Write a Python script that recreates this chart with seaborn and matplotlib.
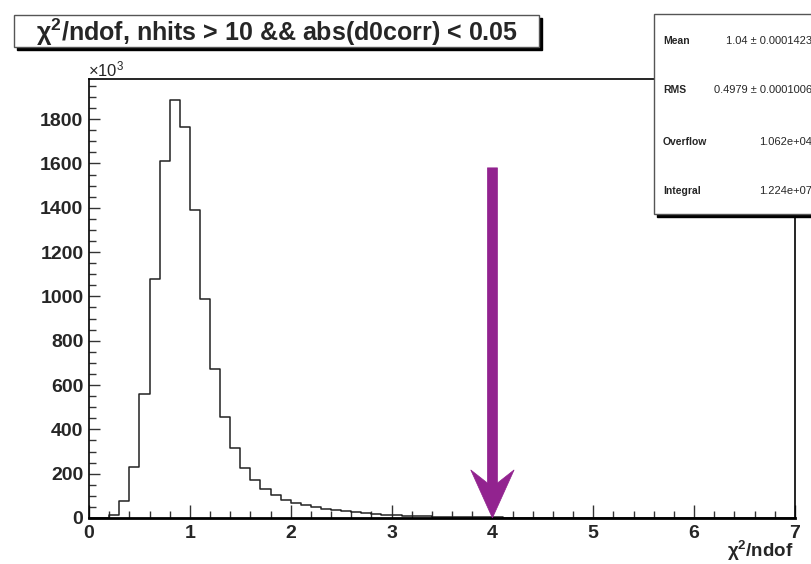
import numpy as np
import pandas as pd
import matplotlib
matplotlib.use("Agg")
import matplotlib.pyplot as plt
from matplotlib.patches import Rectangle, Polygon
import seaborn as sns

# ---- data (counts in thousands, bins of width 0.1 from 0 to 7) ----
bin_edges = np.round(np.arange(0, 7.0001, 0.1), 2)
counts_k = [0, 2, 15, 77, 229, 561, 1078, 1613, 1887, 1765,
            1392, 987, 671, 456, 317, 227, 170, 130, 102, 83,
            69, 58, 49, 42, 36, 30, 25, 21, 18, 15,
            12.5, 10.5, 9, 7.5, 6.3, 5.3, 4.5, 3.8, 3.2, 2.7,
            2.3, 1.9, 1.6, 1.4, 1.2, 1.0, 0.85, 0.72, 0.62, 0.53,
            0.45, 0.38, 0.33, 0.28, 0.24, 0.2, 0.17, 0.15, 0.13, 0.11,
            0.09, 0.08, 0.07, 0.06, 0.05, 0.045, 0.04, 0.035, 0.03, 0.025]
title_text = "χ$^{2}$/ndof, nhits > 10 && abs(d0corr) < 0.05"
xlabel_text = "χ$^{2}$/ndof"
stats_labels = ["Mean", "RMS", "Overflow", "Integral"]
stats_values = ["1.04 ± 0.0001423", "0.4979 ± 0.0001006", "1.062e+04", "1.224e+07"]
cut_value = 4.0
arrow_top = 1580
x_ticks = [0, 1, 2, 3, 4, 5, 6, 7]
y_ticks = [0, 200, 400, 600, 800, 1000, 1200, 1400, 1600, 1800]

sns.set_style("ticks")
plt.rcParams['font.family'] = ['Liberation Sans', 'DejaVu Sans']
plt.rcParams['mathtext.fontset'] = 'custom'
plt.rcParams['mathtext.rm'] = 'Liberation Sans'
plt.rcParams['mathtext.bf'] = 'Liberation Sans:bold'
plt.rcParams['mathtext.it'] = 'Liberation Sans:italic'
plt.rcParams['mathtext.default'] = 'regular'

W, H = 811, 564
fig = plt.figure(figsize=(W / 100, H / 100), dpi=100)
L, R, T, B = 89, 795, 79, 518
ax = fig.add_axes([L / W, 1 - B / H, (R - L) / W, (B - T) / H])

centers = (bin_edges[:-1] + bin_edges[1:]) / 2
df = pd.DataFrame({"x": centers, "w": counts_k})
sns.histplot(data=df, x="x", weights="w", binwidth=0.1, binrange=(0, 7), element="step",
             fill=False, color="#222222", linewidth=1.1, ax=ax)

ax.set_xlim(0, 7)
ax.set_ylim(0, 1981)
ax.set_xlabel("")
ax.set_ylabel("")
ax.set_xticks(x_ticks)
ax.set_xticks(np.arange(0, 7.0001, 0.2), minor=True)
ax.set_yticks(y_ticks)
ax.set_yticks(np.arange(0, 1981, 50), minor=True)
ax.tick_params(axis="both", which="major", direction="in", width=1, labelsize=14, color="#333333")
ax.tick_params(axis="x", which="major", length=9.5, pad=5)
ax.tick_params(axis="y", which="major", length=8, pad=4)
ax.tick_params(axis="x", which="minor", direction="in", length=5, width=1, color="#333333")
ax.tick_params(axis="y", which="minor", direction="in", length=5, width=1, color="#333333")
for lab in ax.get_xticklabels() + ax.get_yticklabels():
    lab.set_fontweight("bold")
for s in ax.spines.values():
    s.set_visible(True)
    s.set_linewidth(1.2)
    s.set_color("black")
ax.spines["bottom"].set_linewidth(2)

# cut arrow
sw, hw = 0.05, 0.215
head_back, notch = 217, 158
poly = Polygon([(cut_value - sw, arrow_top), (cut_value + sw, arrow_top),
                (cut_value + sw, notch), (cut_value + hw, head_back),
                (cut_value, 0), (cut_value - hw, head_back),
                (cut_value - sw, notch)], closed=True,
               facecolor="#92238F", edgecolor="#92238F", linewidth=0.5, zorder=5)
ax.add_patch(poly)

def px(x, y):
    return x / W, 1 - y / H

# title box with shadow
tb_l, tb_t, tb_r, tb_b = 14, 15, 539, 47
fig.patches.append(Rectangle(px(tb_l + 3, tb_b + 3), (tb_r - tb_l) / W, (tb_b - tb_t) / H,
                             transform=fig.transFigure, facecolor="black", edgecolor="black", zorder=10))
fig.patches.append(Rectangle(px(tb_l, tb_b), (tb_r - tb_l) / W, (tb_b - tb_t) / H,
                             transform=fig.transFigure, facecolor="white", edgecolor="#555555",
                             linewidth=1, zorder=11))
fig.text(*px((tb_l + tb_r) / 2 + 1, (tb_t + tb_b) / 2 + 1), title_text, ha="center", va="center",
         fontsize=18, fontweight="bold", zorder=12)

# stats box with shadow
sb_l, sb_t, sb_r, sb_b = 654, 14, 840, 214
fig.patches.append(Rectangle(px(sb_l + 3, sb_b + 3), (sb_r - sb_l) / W, (sb_b - sb_t) / H,
                             transform=fig.transFigure, facecolor="black", edgecolor="black", zorder=10))
fig.patches.append(Rectangle(px(sb_l, sb_b), (sb_r - sb_l) / W, (sb_b - sb_t) / H,
                             transform=fig.transFigure, facecolor="white", edgecolor="#555555",
                             linewidth=1, zorder=11))
row_y = [41, 90, 142, 191]
for lab, val, yy in zip(stats_labels, stats_values, row_y):
    fig.text(*px(663, yy), lab, ha="left", va="center", fontsize=7.5, fontweight="bold", zorder=12)
    fig.text(*px(812, yy), val, ha="right", va="center", fontsize=8, zorder=12)

# axis annotations
fig.text(*px(88, 76), "×10$^{3}$", ha="left", va="baseline", fontsize=12)
fig.text(*px(794, 557), xlabel_text, ha="right", va="baseline", fontsize=13.5, fontweight="bold")

fig.savefig("out.png", dpi=100)
